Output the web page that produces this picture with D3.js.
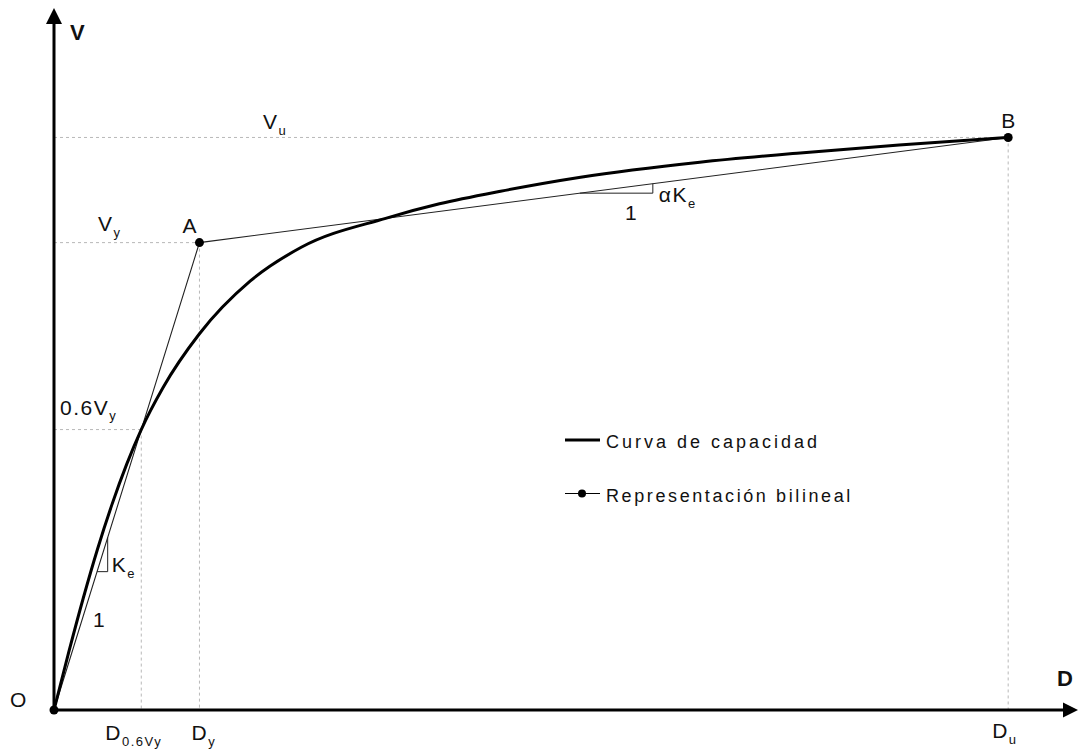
<!DOCTYPE html>
<html>
<head>
<meta charset="utf-8">
<script src="https://cdn.jsdelivr.net/npm/d3@7"></script>
<style>
  html, body { margin: 0; padding: 0; background: #fff; }
  svg { display: block; }
  text { font-family: "Liberation Sans", Arial, sans-serif; fill: #111; }
</style>
</head>
<body>
<svg id="chart" width="1079" height="750"></svg>
<script>
// Capacity curve (normalised: displacement D / Dy, shear V / Vy)
const curveD = [0, 0.1, 0.2, 0.3, 0.4, 0.5, 0.6, 0.75, 1.0, 1.35, 1.7, 2.28, 2.65, 3.07, 3.62, 4.44, 5.13, 5.81, 6.56];
const curveV = [0, 0.122, 0.238, 0.345, 0.441, 0.526, 0.6, 0.69, 0.805, 0.918, 0.99, 1.052, 1.083, 1.11, 1.14, 1.172, 1.192, 1.209, 1.225];

// Bilinear idealisation: O -> A (yield) -> B (ultimate)
const bilinearNames = ["O", "A", "B"];
const bilinearD = [0, 1.0, 6.56];
const bilinearV = [0, 1.0, 1.225];

// Reference levels
const D06 = 0.6;    // displacement at 0.6 Vy
const V06 = 0.6;    // 0.6 Vy
const axisMaxD = 7.04;
const axisMaxV = 1.502;

// Slope triangles (Ke on the elastic branch, alpha*Ke on the hardening branch)
const keTriangleD = [0.296, 0.369];
const aKeTriangleD = [3.615, 4.117];

const legendItems = ["Curva de capacidad", "Representación bilineal"];

const svg = d3.select("#chart");
const x = d3.scaleLinear().domain([0, axisMaxD]).range([54, 1078]);
const y = d3.scaleLinear().domain([0, axisMaxV]).range([710, 8]);

const line = d3.line().x(d => x(d[0])).y(d => y(d[1]));

// Dotted guide lines
const guides = svg.append("g")
  .attr("stroke", "#b8b8b8").attr("stroke-width", 1)
  .attr("stroke-dasharray", "3,3").attr("fill", "none");
const yieldV = bilinearV[1], yieldD = bilinearD[1];
const ultV = bilinearV[2], ultD = bilinearD[2];
[
  [[0, ultV], [ultD, ultV]],
  [[ultD, ultV], [ultD, 0]],
  [[0, yieldV], [yieldD, yieldV]],
  [[yieldD, yieldV], [yieldD, 0]],
  [[0, V06], [D06, V06]],
  [[D06, V06], [D06, 0]]
].forEach(seg => guides.append("path").attr("d", line(seg)));

// Bilinear representation
const bil = bilinearD.map((d, i) => [d, bilinearV[i]]);
svg.append("path")
  .attr("d", line(bil))
  .attr("fill", "none").attr("stroke", "#222").attr("stroke-width", 1.1);

// Slope triangles
const slopeA = (bilinearV[2] - bilinearV[1]) / (bilinearD[2] - bilinearD[1]);
const onHardening = d => bilinearV[1] + slopeA * (d - bilinearD[1]);
const onElastic = d => d * bilinearV[1] / bilinearD[1];
svg.append("path")
  .attr("d", line([[keTriangleD[0], onElastic(keTriangleD[0])], [keTriangleD[1], onElastic(keTriangleD[0])], [keTriangleD[1], onElastic(keTriangleD[1])]]))
  .attr("fill", "none").attr("stroke", "#222").attr("stroke-width", 1);
svg.append("path")
  .attr("d", line([[aKeTriangleD[0], onHardening(aKeTriangleD[0])], [aKeTriangleD[1], onHardening(aKeTriangleD[0])], [aKeTriangleD[1], onHardening(aKeTriangleD[1])]]))
  .attr("fill", "none").attr("stroke", "#222").attr("stroke-width", 1);

// Capacity curve
const cap = curveD.map((d, i) => [d, curveV[i]]);
const smooth = d3.line().x(d => x(d[0])).y(d => y(d[1])).curve(d3.curveMonotoneX);
svg.append("path")
  .attr("d", smooth(cap))
  .attr("fill", "none").attr("stroke", "#000").attr("stroke-width", 3);

// Axes with arrowheads
const axes = svg.append("g");
axes.append("line")
  .attr("x1", x(0)).attr("y1", y(0)).attr("x2", x(0)).attr("y2", y(axisMaxV) + 12)
  .attr("stroke", "#000").attr("stroke-width", 3);
axes.append("line")
  .attr("x1", x(0)).attr("y1", y(0)).attr("x2", x(axisMaxD) - 12).attr("y2", y(0))
  .attr("stroke", "#000").attr("stroke-width", 3);
axes.append("path")
  .attr("d", `M${x(0)},${y(axisMaxV)} l-8,16 l16,0 Z`).attr("fill", "#000");
axes.append("path")
  .attr("d", `M${x(axisMaxD)},${y(0)} l-15,-7.5 l0,15 Z`).attr("fill", "#000");

// Bilinear points
svg.append("g").selectAll("circle").data(bil).join("circle")
  .attr("cx", d => x(d[0])).attr("cy", d => y(d[1])).attr("r", 4.5).attr("fill", "#000");

// Text helper: main text with optional subscript
function label(px, py, main, sub, opts = {}) {
  const size = opts.size || 21;
  const t = svg.append("text").attr("x", px).attr("y", py)
    .attr("font-size", size)
    .attr("font-weight", opts.bold ? "bold" : "normal")
    .attr("letter-spacing", opts.spacing !== undefined ? opts.spacing : 1.5);
  t.append("tspan").text(main);
  if (sub) {
    t.append("tspan").attr("dy", size * 0.28).attr("font-size", size * 0.62).text(sub);
  }
  return t;
}

label(70, 40, "V", null, { bold: true, size: 22, spacing: 0 });
label(1057, 686, "D", null, { bold: true, size: 22, spacing: 0 });
label(10, 707, "O");
label(x(0) + 209, y(ultV) - 8, "V", "u");
label(x(0) + 44, y(yieldV) - 12, "V", "y");
label(x(yieldD) - 17, y(yieldV) - 10, "A");
label(x(ultD) - 7, y(ultV) - 9, "B");
label(x(0) + 6, y(V06) - 15, "0.6V", "y");
label(x(D06) - 36, 740, "D", "0.6Vy");
label(x(yieldD) - 8, 740, "D", "y");
label(x(ultD) - 16, 738, "D", "u");
label(x(keTriangleD[1]) + 4, 572, "K", "e");
label(93, 627, "1");
label(x(aKeTriangleD[1]) + 6, 202, "αK", "e");
label(625, 220, "1");

// Legend
const lg = svg.append("g");
legendItems.forEach((name, i) => {
  const ly = 440 + i * 53.5;
  lg.append("line").attr("x1", 565).attr("x2", 600).attr("y1", ly).attr("y2", ly)
    .attr("stroke", "#000").attr("stroke-width", i === 0 ? 3 : 1.2);
  if (i === 1) lg.append("circle").attr("cx", 582).attr("cy", ly).attr("r", 4).attr("fill", "#000");
  lg.append("text").attr("x", 606).attr("y", ly + 8)
    .attr("font-size", 18).attr("letter-spacing", i === 0 ? 3 : 2.6).text(name);
});
</script>
</body>
</html>
